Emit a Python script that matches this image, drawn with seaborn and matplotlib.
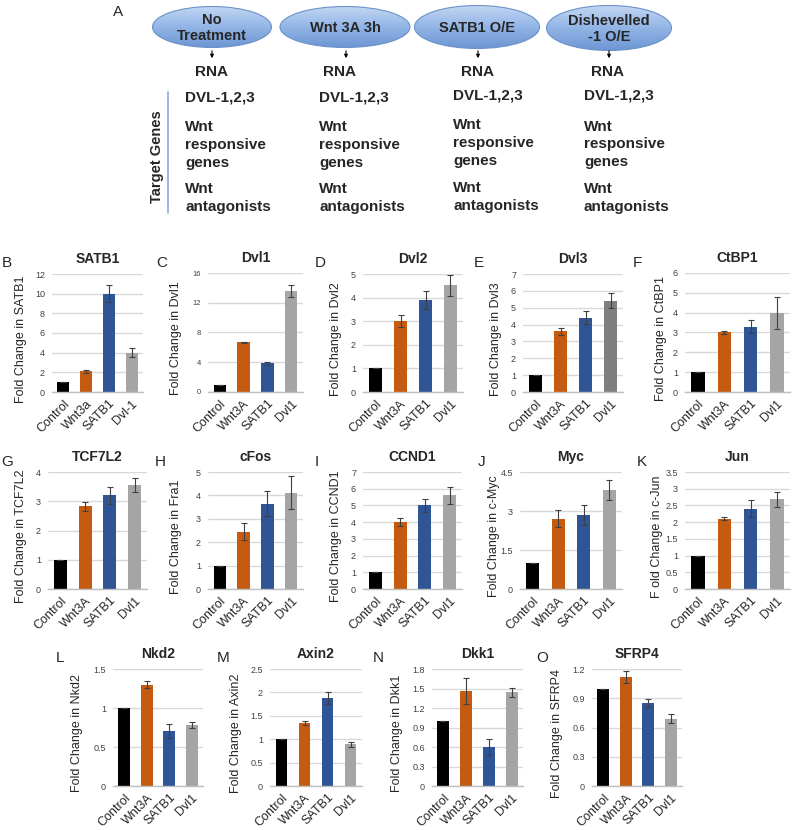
import numpy as np
import pandas as pd
import matplotlib
matplotlib.use("Agg")
import matplotlib.pyplot as plt
from matplotlib.patches import Ellipse
from matplotlib.colors import LinearSegmentedColormap
from matplotlib.ticker import FixedLocator
import seaborn as sns

# ---------------- data ----------------
treatments = ["No\nTreatment", "Wnt 3A 3h", "SATB1 O/E", "Dishevelled\n-1 O/E"]
readouts = ["RNA", "DVL-1,2,3", "Wnt", "responsive", "genes", "Wnt", "antagonists"]
side_label = "Target Genes"

cats = ["Control", "Wnt3A", "SATB1", "Dvl1"]
cats_b = ["Control", "Wnt3a", "SATB1", "Dvl-1"]

satb1_mean = [1.0, 2.1, 10.0, 4.0]
satb1_err = [0.0, 0.15, 0.85, 0.45]
dvl1_mean = [1.0, 6.7, 3.85, 13.6]
dvl1_err = [0.0, 0.05, 0.25, 0.8]
dvl2_mean = [1.0, 3.0, 3.88, 4.52]
dvl2_err = [0.0, 0.25, 0.38, 0.45]
dvl3_mean = [1.0, 3.6, 4.4, 5.42]
dvl3_err = [0.0, 0.22, 0.38, 0.45]
ctbp1_mean = [1.0, 3.0, 3.3, 4.0]
ctbp1_err = [0.0, 0.1, 0.35, 0.8]
tcf7l2_mean = [1.0, 2.83, 3.2, 3.55]
tcf7l2_err = [0.0, 0.15, 0.3, 0.25]
cfos_mean = [1.0, 2.45, 3.65, 4.12]
cfos_err = [0.0, 0.35, 0.55, 0.7]
ccnd1_mean = [1.0, 4.0, 5.0, 5.6]
ccnd1_err = [0.0, 0.22, 0.4, 0.5]
myc_mean = [1.0, 2.7, 2.85, 3.8]
myc_err = [0.0, 0.33, 0.4, 0.38]
jun_mean = [1.0, 2.1, 2.4, 2.68]
jun_err = [0.0, 0.04, 0.25, 0.23]
nkd2_mean = [1.0, 1.3, 0.7, 0.78]
nkd2_err = [0.0, 0.04, 0.09, 0.04]
axin2_mean = [1.0, 1.34, 1.88, 0.89]
axin2_err = [0.0, 0.04, 0.12, 0.05]
dkk1_mean = [1.0, 1.46, 0.6, 1.44]
dkk1_err = [0.0, 0.2, 0.12, 0.07]
sfrp4_mean = [1.0, 1.12, 0.85, 0.69]
sfrp4_err = [0.0, 0.06, 0.04, 0.045]

# ---------------- style ----------------
sns.set_theme(style="white")
plt.rcParams["font.family"] = ["Liberation Sans", "DejaVu Sans"]

W, H = 792, 830
fig = plt.figure(figsize=(W / 100, H / 100), dpi=100)
fig.patch.set_facecolor("white")

BLACK, ORANGE, BLUE, GRAY, DGRAY = "#000000", "#c55a11", "#2f5597", "#a5a5a5", "#7f7f7f"


def px_axes(x0, y0, x1, y1):
    return fig.add_axes([x0 / W, 1 - y1 / H, (x1 - x0) / W, (y1 - y0) / H])


# ---------------- panel A (diagram) ----------------
ax0 = fig.add_axes([0, 0, 1, 1])
ax0.set_axis_off()
ax0.patch.set_visible(False)

ell_cx = [212, 345, 477, 609]
ell_cy = [27, 27, 27, 28]
ell_w = [119, 130, 125, 125]
ell_h = [41, 41, 43, 45]
cmap = LinearSegmentedColormap.from_list("bl", ["#c3d7f2", "#93b5e6", "#6d97d4"])
grad = np.linspace(0, 1, 100).reshape(-1, 1)
for cx, cy, w, h, t in zip(ell_cx, ell_cy, ell_w, ell_h, treatments):
    e = Ellipse((cx, cy), w, h, facecolor="none", edgecolor="#6b92c9", lw=0.8, zorder=3)
    ax0.add_patch(e)
    im = ax0.imshow(grad, cmap=cmap, aspect="auto", origin="upper",
                    extent=[cx - w / 2, cx + w / 2, cy + h / 2, cy - h / 2], zorder=2)
    im.set_clip_path(e)
    ax0.text(cx, cy + 1, t, ha="center", va="center", fontsize=10.5, fontweight="bold",
             linespacing=1.1, zorder=4)

arrow_x = [212, 346, 478, 609]
for x in arrow_x:
    ax0.annotate("", xy=(x, 61), xytext=(x, 48),
                 arrowprops=dict(arrowstyle="-|>", lw=0.8, color="black", mutation_scale=5))

rna_x = [212, 340, 478, 608]
for x in rna_x:
    ax0.text(x, 72, readouts[0], ha="center", va="center", fontsize=11, fontweight="bold")

col_left = [185, 319, 453, 584]
col_y = [[97, 127, 145, 163, 189, 207],
         [97, 127, 145, 163, 189, 207],
         [95, 125, 143, 161, 188, 206],
         [96, 127, 144, 162, 189, 207]]
for xl, ys in zip(col_left, col_y):
    for txt, y in zip(readouts[1:], ys):
        ax0.text(xl, y, txt, ha="left", va="center", fontsize=11, fontweight="bold")

ax0.plot([168, 168], [92, 213], color="#8eaadb", lw=1.2)
ax0.text(157, 157, side_label, rotation=90, ha="center", va="center",
         fontsize=10.5, fontweight="bold")
ax0.text(118, 12, "A", ha="center", va="center", fontsize=11)
ax0.set_xlim(0, W)
ax0.set_ylim(H, 0)


# ---------------- bar panels ----------------
def bar_panel(box, labels, means, errs, colors, yticks, title, ylabel,
              letter, letter_xy, ylabel_x, ytick_fs=6.5):
    x0, y0, x1, y1 = box
    ax = px_axes(*box)
    df = pd.DataFrame({"cat": labels, "val": means})
    pal = dict(zip(labels, colors))
    sns.barplot(data=df, x="cat", y="val", hue="cat", palette=pal, width=0.52,
                errorbar=None, legend=False, ax=ax, linewidth=0, saturation=1)
    ax.errorbar(np.arange(len(means)), means, yerr=errs, fmt="none", ecolor="#404040",
                elinewidth=0.8, capsize=2, capthick=0.8, zorder=5)
    ax.set_ylim(0, yticks[-1])
    ax.set_yticks(yticks)
    ax.set_yticklabels([f"{v:g}" for v in yticks])
    ax.set_xlim(-0.5, len(means) - 0.5)
    ax.grid(axis="y", color="#d9d9d9", lw=1)
    ax.grid(axis="x", visible=False)
    ax.set_axisbelow(True)
    for s in ["left", "right", "top"]:
        ax.spines[s].set_visible(False)
    ax.spines["bottom"].set_color("#bfbfbf")
    ax.spines["bottom"].set_linewidth(1)
    ax.tick_params(axis="y", length=0, labelsize=ytick_fs, labelcolor="#404040", pad=5)
    ax.xaxis.set_minor_locator(FixedLocator(np.arange(-0.5, len(means), 1.0)))
    ax.tick_params(axis="x", which="major", length=0, labelsize=9, pad=4)
    ax.tick_params(axis="x", which="minor", length=4, width=1, color="#bfbfbf", direction="out")
    plt.setp(ax.get_xticklabels(), rotation=45, ha="right", rotation_mode="anchor")
    ax.set_xlabel("")
    ax.set_title(title, fontsize=10, fontweight="bold", pad=8)
    ax.set_ylabel(ylabel, fontsize=9)
    ax.yaxis.set_label_coords((ylabel_x - x0) / (x1 - x0), 0.45)
    fig.text(letter_xy[0] / W, 1 - letter_xy[1] / H, letter, fontsize=11,
             ha="center", va="center")
    return ax


C4 = [BLACK, ORANGE, BLUE, GRAY]

# row 1
bar_panel((52, 274, 143, 392), cats_b, satb1_mean, satb1_err, C4, [0, 2, 4, 6, 8, 10, 12],
          "SATB1", "Fold Change in SATB1", "B", (7, 263), 27)
bar_panel((208, 273, 303, 392), cats, dvl1_mean, dvl1_err, C4, [0, 4, 8, 12, 16],
          "Dvl1", "Fold Change in Dvl1", "C", (162, 263), 182, ytick_fs=5.5)
bar_panel((363, 274, 463, 392), cats, dvl2_mean, dvl2_err, C4, [0, 1, 2, 3, 4, 5],
          "Dvl2", "Fold Change in Dvl2", "D", (320, 263), 342)
bar_panel((523, 274, 623, 392), cats, dvl3_mean, dvl3_err, [BLACK, ORANGE, BLUE, DGRAY],
          [0, 1, 2, 3, 4, 5, 6, 7], "Dvl3", "Fold Change in Dvl3", "E", (479, 263), 502)
bar_panel((685, 273, 790, 392), cats, ctbp1_mean, ctbp1_err, C4, [0, 1, 2, 3, 4, 5, 6],
          "CtBP1", "Fold Change in CtBP1", "F", (637, 263), 667)

# row 2
bar_panel((48, 472, 147, 589), cats, tcf7l2_mean, tcf7l2_err, C4, [0, 1, 2, 3, 4],
          "TCF7L2", "Fold Change in TCF7L2", "G", (7, 462), 27)
bar_panel((208, 472, 303, 589), cats, cfos_mean, cfos_err, C4, [0, 1, 2, 3, 4, 5],
          "cFos", "Fold Change in Fra1", "H", (160, 462), 182)
bar_panel((363, 472, 462, 589), cats, ccnd1_mean, ccnd1_err, C4, [0, 1, 2, 3, 4, 5, 6, 7],
          "CCND1", "Fold Change in CCND1", "I", (317, 462), 342)
bar_panel((520, 472, 622, 589), cats, myc_mean, myc_err, C4, [0, 1.5, 3, 4.5],
          "Myc", "Fold Change in c-Myc", "J", (482, 462), 500)
bar_panel((685, 472, 790, 589), cats, jun_mean, jun_err, C4,
          [0, 0.5, 1, 1.5, 2, 2.5, 3, 3.5],
          "Jun", "F old Change in c-Jun", "K", (642, 462), 663)

# row 3
bar_panel((113, 669, 203, 786), cats, nkd2_mean, nkd2_err, C4, [0, 0.5, 1, 1.5],
          "Nkd2", "Fold Change in Nkd2", "L", (60, 658), 83)
bar_panel((270, 669, 362, 786), cats, axin2_mean, axin2_err, C4, [0, 0.5, 1, 1.5, 2, 2.5],
          "Axin2", "Fold Change in Axin2", "M", (223, 658), 242)
bar_panel((432, 669, 523, 786), cats, dkk1_mean, dkk1_err, C4,
          [0, 0.3, 0.6, 0.9, 1.2, 1.5, 1.8],
          "Dkk1", "Fold Change in Dkk1", "N", (378, 658), 403)
bar_panel((592, 669, 682, 786), cats, sfrp4_mean, sfrp4_err, C4, [0, 0.3, 0.6, 0.9, 1.2],
          "SFRP4", "Fold Change in SFRP4", "O", (542, 658), 563)

fig.savefig("out.png", dpi=100, facecolor="white")
